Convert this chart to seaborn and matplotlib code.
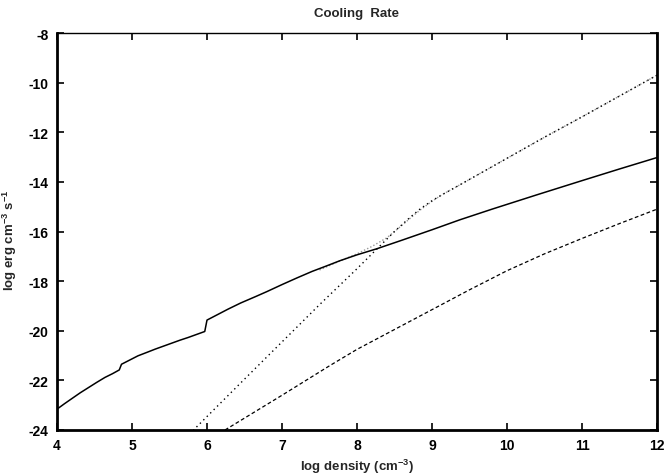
import matplotlib
matplotlib.use("Agg")
import matplotlib.pyplot as plt
import numpy as np
import pandas as pd
import seaborn as sns

# solid curve (with small jumps at n ~ 4.85 and n ~ 6)
solid_x = [4.0, 4.1, 4.2, 4.31, 4.42, 4.53, 4.64, 4.74, 4.83, 4.86, 4.97, 5.08, 5.2, 5.31,
           5.42, 5.53, 5.64, 5.75, 5.86, 5.97, 6.0, 6.14, 6.28, 6.45, 6.65, 6.8, 7.0,
           7.2, 7.4, 7.6, 7.77, 8.0, 8.26, 8.6, 9.0, 9.37, 9.8, 10.4, 11.0, 11.5, 12.0]
solid_y = [-23.16, -22.94, -22.73, -22.5, -22.29, -22.08, -21.88, -21.73, -21.58, -21.35, -21.18,
           -21.01, -20.87, -20.74, -20.62, -20.5, -20.38, -20.27, -20.15, -20.03, -19.57, -19.35,
           -19.13, -18.88, -18.62, -18.42, -18.14, -17.87, -17.61, -17.38, -17.18, -16.94, -16.7,
           -16.35, -15.93, -15.53, -15.1, -14.52, -13.95, -13.48, -13.02]

# steep dotted curve
dot_x = [5.82, 6.5, 7.0, 7.5, 8.0, 8.5, 8.7, 8.85, 9.0, 9.15, 9.3, 9.5, 10.0, 10.5, 11.0, 11.5, 12.0]
dot_y = [-24.0, -21.95, -20.45, -18.95, -17.5, -16.0, -15.45, -15.07, -14.76, -14.49, -14.24,
         -13.9, -13.05, -12.2, -11.38, -10.54, -9.7]

# grey dotted (sum) curve
sum_x = [7.5, 7.8, 8.0, 8.2, 8.4, 8.6, 8.75, 8.9, 9.05, 9.15, 9.3, 9.5, 10.0, 10.5, 11.0, 11.5, 12.0]
sum_y = [-17.55, -17.15, -16.9, -16.6, -16.25, -15.75, -15.36, -15.0, -14.68, -14.49, -14.24,
         -13.9, -13.05, -12.2, -11.38, -10.54, -9.7]

# lower dashed curve
dash_x = [6.24, 7.0, 7.64, 8.0, 8.5, 9.0, 9.5, 10.0, 10.5, 11.0, 11.5, 12.0]
dash_y = [-24.0, -22.6, -21.4, -20.75, -19.95, -19.15, -18.35, -17.58, -16.9, -16.28, -15.68, -15.1]

sns.set_style("ticks")
plt.rcParams['font.family'] = ['Liberation Sans', 'DejaVu Sans']
plt.rcParams['mathtext.default'] = 'regular'
plt.rcParams['axes.unicode_minus'] = False

fig = plt.figure(figsize=(6.65, 4.77), dpi=100)
ax = fig.add_axes([57 / 665, 1 - 431 / 477, 600 / 665, 397 / 477])

sns.lineplot(x=sum_x, y=sum_y, ax=ax, color='#999999', lw=1.0, linestyle=(0, (1, 1.5)))
sns.lineplot(x=dot_x, y=dot_y, ax=ax, color='black', lw=1.0, linestyle=(0.5, (1, 2.5)))
sns.lineplot(x=dash_x, y=dash_y, ax=ax, color='black', lw=0.9, linestyle=(0, (3, 2)))
sns.lineplot(x=solid_x, y=solid_y, ax=ax, color='black', lw=1.1)

ax.set_xlim(4, 12)
ax.set_ylim(-24, -8)
ax.set_xticks(np.arange(4, 13, 1))
ax.set_yticks(np.arange(-24, -7, 2))
ax.tick_params(direction='in', length=5, width=1.2, top=True, right=True,
               labelsize=10, pad=6, colors='black')
for lab in ax.get_xticklabels() + ax.get_yticklabels():
    lab.set_fontweight('bold')
for side in ['left', 'bottom', 'right']:
    ax.spines[side].set_linewidth(2.0)
ax.spines['top'].set_linewidth(1.0)
for s in ax.spines.values():
    s.set_color('black')

ax.set_title('Cooling  Rate', fontsize=9.5, fontweight='bold', pad=12)
ax.set_xlabel('log density (cm$^{-3}$)', fontsize=9.5, fontweight='bold', labelpad=3)
ax.set_ylabel('log erg cm$^{-3}$ s$^{-1}$', fontsize=9.5, fontweight='bold')
ax.yaxis.set_label_coords(-0.064, 0.48)

fig.savefig('out.png', dpi=100)
